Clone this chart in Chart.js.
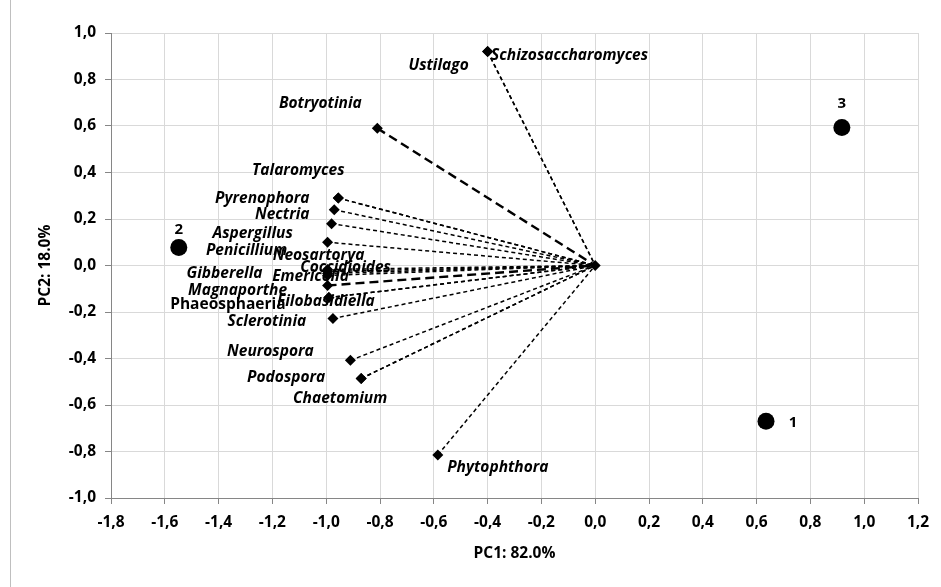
<!DOCTYPE html>
<html>
<head>
<meta charset="utf-8">
<script src="https://cdn.jsdelivr.net/npm/chart.js@4.4.1/dist/chart.umd.min.js"></script>
<style>
    html, body { margin: 0; padding: 0; background: #fff; }
    #wrap { position: relative; width: 941px; height: 587px; }
    #edge { position: absolute; left: 10px; top: 0; width: 1px; height: 587px; background: #bfbfbf; }
</style>
</head>
<body>
<div id="wrap">
    <div id="edge"></div>
    <canvas id="chart" width="941" height="587"></canvas>
</div>
<script>
    // Loadings (genera) -- PC1 / PC2
    const genera = [
        'Schizosaccharomyces', 'Ustilago', 'Botryotinia', 'Talaromyces', 'Pyrenophora',
        'Nectria', 'Aspergillus', 'Penicillium', 'Neosartorya', 'Coccidioides',
        'Gibberella', 'Emericella', 'Magnaporthe', 'Filobasidiella', 'Phaeosphaeria',
        'Sclerotinia', 'Neurospora', 'Podospora', 'Chaetomium', 'Phytophthora'
    ];
    const generaPC1 = [
        -0.40, -0.40, -0.81, -0.955, -0.955,
        -0.97, -0.98, -0.995, -0.995, -0.995,
        -0.995, -0.995, -0.995, -0.99, -0.99,
        -0.975, -0.91, -0.87, -0.87, -0.585
    ];
    const generaPC2 = [
        0.92, 0.92, 0.59, 0.29, 0.29,
        0.24, 0.18, 0.10, -0.017, -0.026,
        -0.034, -0.043, -0.086, -0.138, -0.138,
        -0.228, -0.408, -0.486, -0.486, -0.815
    ];

    // Samples
    const samples = ['1', '2', '3'];
    const samplePC1 = [0.635, -1.548, 0.917];
    const samplePC2 = [-0.67, 0.077, 0.594];

    // label placement (pixels from the marker), as arranged by hand in the original
    const labelDx = [82, -49, -57, -40, -76, -52, -79, -81, -9, 18, -103, -17, -90, -3, -101, -66, -80, -75, -21, 60];
    const labelDy = [4, 14, -25, -27, 1, 5, 10, 8, -14, -4, 0, 1, 5, 4, 7, 3, -9, -1, 20, 13];
    const sampleDx = [27, 0, 0];
    const sampleDy = [1, -18, -24];
    const heavyLines = ['Botryotinia', 'Magnaporthe'];
    const uprightLabels = ['Phaeosphaeria'];

    const FONT = '"Open Sans", Lato, sans-serif';

    const datasets = [];
    genera.forEach((name, i) => {
        const heavy = heavyLines.includes(name);
        datasets.push({
            label: name,
            data: [{ x: generaPC1[i], y: generaPC2[i] }, { x: 0, y: 0 }],
            showLine: true,
            borderColor: '#000',
            borderWidth: heavy ? 2.4 : 1.5,
            borderDash: heavy ? [9, 5] : [4, 3],
            pointStyle: 'rectRot',
            pointRadius: [5.5, 0],
            pointBackgroundColor: '#000',
            pointBorderWidth: 0
        });
    });
    datasets.push({
        label: 'origin',
        data: [{ x: 0, y: 0 }],
        pointStyle: 'rectRot',
        pointRadius: 5.5,
        pointBackgroundColor: '#000',
        pointBorderWidth: 0
    });
    datasets.push({
        label: 'samples',
        data: samples.map((s, i) => ({ x: samplePC1[i], y: samplePC2[i] })),
        pointStyle: 'circle',
        pointRadius: 8.5,
        pointBackgroundColor: '#000',
        pointBorderWidth: 0
    });

    const labelPlugin = {
        id: 'pointLabels',
        afterDatasetsDraw(chart) {
            const c = chart.ctx;
            const xs = chart.scales.x, ys = chart.scales.y;
            c.save();
            c.fillStyle = '#000';
            c.textAlign = 'center';
            c.textBaseline = 'middle';
            genera.forEach((name, i) => {
                const px = xs.getPixelForValue(generaPC1[i]);
                const py = ys.getPixelForValue(generaPC2[i]);
                const style = uprightLabels.includes(name) ? '' : 'italic ';
                c.font = style + 'bold 15.5px ' + FONT;
                c.fillText(name, px + labelDx[i], py + labelDy[i]);
            });
            c.font = 'bold 15px ' + FONT;
            samples.forEach((s, i) => {
                const px = xs.getPixelForValue(samplePC1[i]);
                const py = ys.getPixelForValue(samplePC2[i]);
                c.fillText(s, px + sampleDx[i], py + sampleDy[i]);
            });
            c.restore();
        }
    };

    const commaFmt = v => v.toFixed(1).replace('.', ',');

    new Chart(document.getElementById('chart'), {
        type: 'scatter',
        data: { datasets: datasets },
        options: {
            responsive: false,
            animation: false,
            layout: { padding: { top: 33, right: 23, left: 0, bottom: 0 } },
            plugins: {
                legend: { display: false },
                tooltip: { enabled: false }
            },
            scales: {
                x: {
                    min: -1.8, max: 1.2,
                    afterFit: s => { s.height = 89; },
                    ticks: {
                        stepSize: 0.2,
                        padding: 9,
                        color: '#000',
                        font: { family: FONT, size: 15.5, weight: 'bold' },
                        callback: commaFmt,
                        maxRotation: 0
                    },
                    grid: { color: '#d9d9d9', tickLength: 6, tickColor: '#868686' },
                    border: { color: '#868686' },
                    title: {
                        display: true,
                        text: 'PC1: 82.0%',
                        color: '#000',
                        font: { family: FONT, size: 15.5, weight: 'bold' },
                        padding: { top: 0, bottom: 24 }
                    }
                },
                y: {
                    min: -1.0, max: 1.0,
                    afterFit: s => { s.width = 111; },
                    ticks: {
                        stepSize: 0.2,
                        padding: 9,
                        color: '#000',
                        font: { family: FONT, size: 15.5, weight: 'bold' },
                        callback: commaFmt
                    },
                    grid: { color: '#d9d9d9', tickLength: 6, tickColor: '#868686' },
                    border: { color: '#868686' },
                    title: {
                        display: true,
                        text: 'PC2: 18.0%',
                        color: '#000',
                        font: { family: FONT, size: 15.5, weight: 'bold' },
                        padding: { top: 36, bottom: 0 }
                    }
                }
            }
        },
        plugins: [labelPlugin]
    });
</script>
</body>
</html>
